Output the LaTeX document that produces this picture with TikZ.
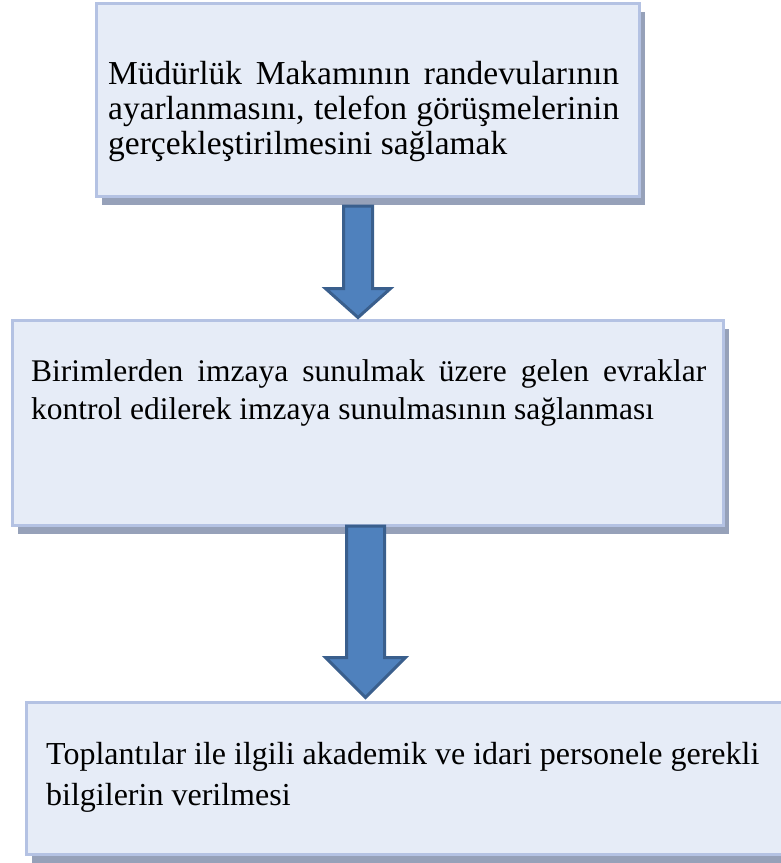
\documentclass[tikz,border=0pt]{standalone}
\usepackage{fontspec}
\setmainfont{Liberation Serif}
\usetikzlibrary{calc,shadows}

\definecolor{panelfill}{HTML}{E6ECF7}
\definecolor{panelline}{HTML}{B4C2E3}
\definecolor{panelshade}{HTML}{96A1B9}
\definecolor{arrowfill}{HTML}{4F81BD}
\definecolor{arrowline}{HTML}{3A5F8D}

\tikzset{
  panel/.style={draw=panelline, fill=panelfill, line width=3pt, inner sep=0pt,
    anchor=north west,
    drop shadow={shadow xshift=5.5pt, shadow yshift=-8.5pt, fill=panelshade, opacity=1}},
  paneltext/.style={inner sep=0pt, anchor=base west, text=black},
  blockarrow/.style={draw=arrowline, fill=arrowfill, line width=3pt, line join=miter}
}

% paragraph set in the panels: width, font size, line skip, text; no hyphenation
\newcommand\paneltextbox[4]{%
  \parbox[t]{#1}{\fontsize{#2}{#3}\selectfont\hyphenpenalty=10000\relax #4}}

% thick down arrow from #1 to #2; shaft half width #3, head half width #4, head length #5
\newcommand\downblockarrow[5]{%
  \draw[blockarrow] let \p1=(#1), \p2=(#2) in
    (\x1-#3,\y1) -- (\x1+#3,\y1) -- (\x1+#3,\y2+#5) -- (\x1+#4,\y2+#5)
    -- (\x1,\y2) -- (\x1-#4,\y2+#5) -- (\x1-#3,\y2+#5) -- cycle;}

\begin{document}
\begin{tikzpicture}[x=1pt,y=-1pt]
  \useasboundingbox (0,0) rectangle (781,863);

  % panels
  \node[panel, minimum width=543pt, minimum height=193pt] (b1) at (94.5,1.5) {};
  \node[panel, minimum width=711pt, minimum height=205pt] (b2) at (10.5,318.5) {};
  \node[panel, minimum width=780pt, minimum height=152pt] (b3) at (24.5,700.5) {};

  % panel texts
  \node[paneltext] (t1) at (108,84) {\paneltextbox{511pt}{33.5}{35pt}{%
    Müdürlük Makamının randevularının\linebreak
    ayarlanmasını, telefon görüşmelerinin\linebreak
    gerçekleştirilmesini sağlamak}};
  \node[paneltext] (t2) at (31,381) {\paneltextbox{675pt}{31.5}{38pt}{%
    Birimlerden imzaya sunulmak üzere gelen evraklar\linebreak
    kontrol edilerek imzaya sunulmasının sağlanması}};
  \node[paneltext] (t3) at (46,764) {\paneltextbox{740pt}{32}{41pt}{%
    Toplantılar ile ilgili akademik ve idari personele gerekli\newline
    bilgilerin verilmesi}};

  % arrow axes
  \coordinate (ax1) at (358,0);
  \coordinate (ax2) at (365.5,0);
  \path (ax1 |- b1.south) ++(0,8.5) coordinate (a1s);
  \path (ax1 |- b2.north) ++(0,-1) coordinate (a1e);
  \path (ax2 |- b2.south) ++(0,-0.5) coordinate (a2s);
  \path (ax2 |- b3.north) ++(0,-3) coordinate (a2e);

  % arrows between panels
  \downblockarrow{a1s}{a1e}{14.5pt}{32.5pt}{29pt}
  \downblockarrow{a2s}{a2e}{19pt}{40pt}{40pt}
\end{tikzpicture}
\end{document}
